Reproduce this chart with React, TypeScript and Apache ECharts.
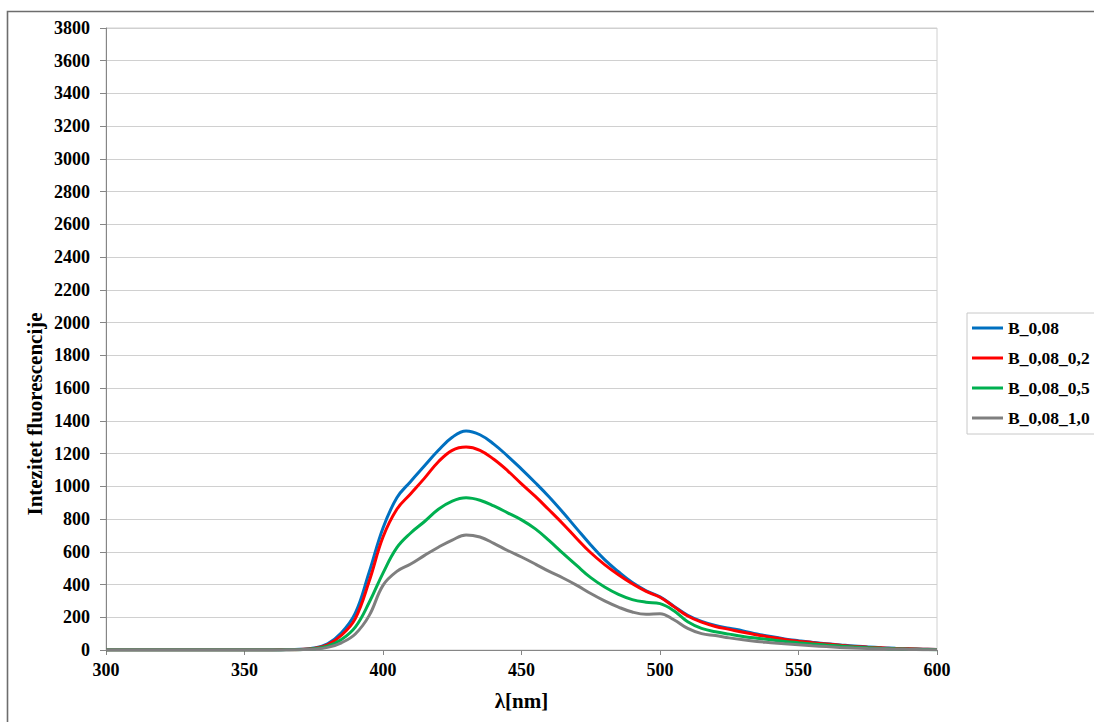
import React, { useEffect, useRef } from "react";
import * as echarts from "echarts";

const wavelengths = [
  300, 305, 310, 315, 320, 325, 330, 335, 340, 345, 350, 355, 360,
  365, 370, 375, 380, 385, 390, 395, 400,
  405, 410, 415, 420, 425, 430, 435, 440, 445, 450,
  455, 460, 465, 470, 475, 480, 485, 490, 495, 500,
  505, 510, 515, 520, 525, 530, 535, 540, 545, 550,
  555, 560, 565, 570, 575, 580, 585, 590, 595, 600,
];

const baseline = [0, 0, 0, 0, 0, 0, 0, 0, 0, 0, 0, 0, 0];

const b008 = [...baseline,
  1, 4, 12, 38, 105, 225, 475, 745,
  930, 1030, 1125, 1220, 1300, 1338, 1315, 1258, 1185, 1105,
  1022, 935, 840, 740, 642, 552, 478, 412, 362, 325,
  268, 212, 175, 150, 133, 117, 98, 82, 68, 57,
  47, 38, 31, 24, 19, 14, 10, 7, 5, 3];
const b008_02 = [...baseline,
  1, 3, 10, 32, 90, 192, 420, 690,
  860, 955, 1050, 1150, 1220, 1240, 1220, 1165, 1095, 1015,
  938, 855, 770, 680, 594, 522, 460, 405, 358, 322,
  265, 208, 170, 144, 126, 108, 92, 78, 65, 54,
  45, 36, 29, 22, 17, 13, 9, 7, 5, 3];
const b008_05 = [...baseline,
  1, 2, 7, 23, 64, 140, 290, 470,
  625, 715, 785, 860, 910, 930, 915, 880, 838, 795,
  740, 668, 590, 515, 442, 385, 340, 308, 292, 283,
  240, 172, 132, 112, 97, 83, 72, 62, 52, 44,
  37, 30, 24, 18, 14, 10, 7, 5, 3, 2];
const b008_10 = [...baseline,
  1, 2, 5, 16, 44, 98, 210, 395,
  480, 525, 578, 628, 672, 703, 690, 652, 608, 568,
  525, 480, 440, 395, 345, 300, 262, 232, 218, 222,
  185, 132, 100, 88, 74, 62, 52, 45, 38, 32,
  26, 21, 16, 12, 9, 7, 5, 3, 2, 1];

const seriesNames = ["B_0,08", "B_0,08_0,2", "B_0,08_0,5", "B_0,08_1,0"];
const seriesColors = ["#0070C0", "#FF0000", "#00B050", "#7F7F7F"];
const seriesValues = [b008, b008_02, b008_05, b008_10];

const FONT = '"Liberation Serif", "Times New Roman", serif';

export default function App() {
  const ref = useRef<HTMLDivElement>(null);
  useEffect(() => {
    if (!ref.current) return;
    const chart = echarts.init(ref.current, null, { renderer: "svg" });
    chart.setOption({
      animation: false,
      backgroundColor: "#ffffff",
      grid: {
        left: 106,
        right: 157,
        top: 28,
        bottom: 72,
        show: true,
        borderColor: "#d0d0d0",
        borderWidth: 1,
      },
      legend: {
        orient: "vertical",
        left: 967,
        top: 313,
        padding: [6, 10, 7, 5],
        itemWidth: 31,
        itemHeight: 3,
        itemGap: 12,
        icon: "rect",
        borderColor: "#c8c8c8",
        borderWidth: 1,
        data: seriesNames,
        textStyle: {
          fontFamily: FONT,
          fontWeight: "bold",
          fontSize: 17.5,
          color: "#000",
          lineHeight: 16,
        },
      },
      xAxis: {
        type: "value",
        min: 300,
        max: 600,
        interval: 50,
        name: "λ[nm]",
        nameLocation: "middle",
        nameGap: 40,
        nameTextStyle: { fontFamily: FONT, fontWeight: "bold", fontSize: 21, color: "#000" },
        axisLine: { show: true, lineStyle: { color: "#868686", width: 1 } },
        axisTick: { show: true, length: 5, lineStyle: { color: "#868686" } },
        axisLabel: { fontFamily: FONT, fontWeight: "bold", fontSize: 18, color: "#000", margin: 11 },
        splitLine: { show: false },
      },
      yAxis: {
        type: "value",
        min: 0,
        max: 3800,
        interval: 200,
        axisLine: { show: true, lineStyle: { color: "#868686", width: 1 } },
        axisTick: { show: true, length: 6, lineStyle: { color: "#868686" } },
        axisLabel: {
          fontFamily: FONT,
          fontWeight: "bold",
          fontSize: 18,
          color: "#000",
          margin: 16,
          formatter: (v: number) => String(v),
        },
        splitLine: { show: true, lineStyle: { color: "#d0d0d0", width: 1 } },
      },
      graphic: [
        {
          type: "rect",
          shape: { x: 7.5, y: 11.5, width: 1200, height: 800 },
          style: { fill: "none", stroke: "#6d6d6d", lineWidth: 1.6 },
          silent: true,
        },
        {
          type: "text",
          x: 35,
          y: 414,
          rotation: Math.PI / 2,
          style: {
            text: "Intezitet fluorescencije",
            x: 0,
            y: 0,
            textAlign: "center",
            textVerticalAlign: "middle",
            font: `bold 21px ${FONT}`,
            fill: "#000",
          },
          silent: true,
        },
      ],
      series: seriesNames.map((name, i) => ({
        name,
        type: "line",
        data: wavelengths.map((w, j) => [w, seriesValues[i][j]]),
        showSymbol: false,
        symbol: "none",
        smooth: 0.4,
        lineStyle: { color: seriesColors[i], width: 3 },
        itemStyle: { color: seriesColors[i] },
      })),
    });
    return () => chart.dispose();
  }, []);
  return <div ref={ref} style={{ position: "fixed", left: 0, top: 0, width: 1094, height: 722 }} />;
}
